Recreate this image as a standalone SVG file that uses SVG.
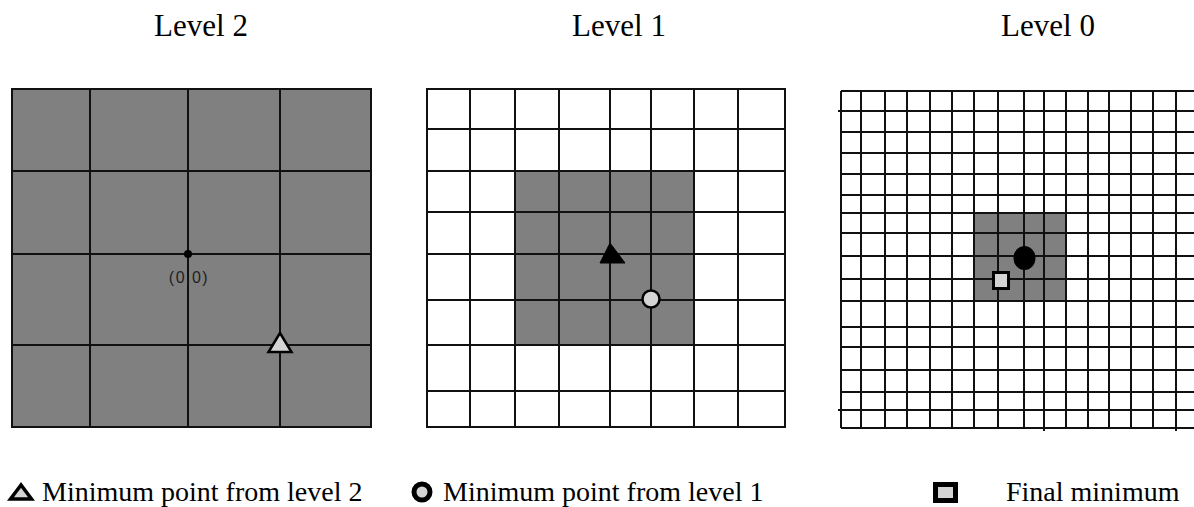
<svg xmlns="http://www.w3.org/2000/svg" width="1194" height="507" viewBox="0 0 1194 507">
<defs>
<style>
.title{font-family:"Liberation Serif","Times New Roman",serif;font-size:31px;fill:#000;text-anchor:middle}
.leg{font-family:"Liberation Serif","Times New Roman",serif;font-size:28px;fill:#000}
.grid{stroke:#111;stroke-width:2;fill:none}
.gray{fill:#808080}
.mark{stroke:#000;fill:#d4d4d4}
</style>
</defs>
<rect width="1194" height="507" fill="#fff"/>
<g id="titles">
<text class="title" x="201" y="36">Level 2</text>
<text class="title" x="619" y="36">Level 1</text>
<text class="title" x="1048" y="36">Level 0</text>
</g>
<g id="level2">
<rect class="gray" x="12" y="89" width="359" height="338"/>
<path class="grid" d="M12 89H371V427H12Z M90 89V427 M188 89V427 M280 89V427 M12 171H371 M12 254H371 M12 345H371"/>
<circle cx="188" cy="254" r="4" fill="#000"/>
<text x="189" y="283" font-family="Liberation Sans, Arial, sans-serif" font-size="16" letter-spacing="1.5" fill="#222" text-anchor="middle">(0,0)</text>
<polygon class="mark" stroke-width="2.5" fill="#c8c8c8" points="280,333 268.5,352 291.5,352"/>
</g>
<g id="level1">
<rect x="427" y="89" width="358" height="338" fill="#fff"/>
<rect class="gray" x="515" y="171" width="179" height="174"/>
<path class="grid" d="M427 89H785V427H427Z M470 89V427 M515 89V427 M559 89V427 M610 89V427 M651 89V427 M694 89V427 M738 89V427 M427 129H785 M427 171H785 M427 212H785 M427 254H785 M427 300H785 M427 345H785 M427 391H785"/>
<polygon fill="#000" stroke="#000" stroke-width="1" points="610,243 600,263 625,263"/>
<circle class="mark" cx="651" cy="299" r="8.5" stroke-width="2.5" fill="#dcdcdc"/>
</g>
<g id="level0">
<rect class="gray" x="974" y="213" width="92" height="88"/>
<path class="grid" d="M841 91V428 M861 91V428 M885 91V428 M907 91V428 M930 91V428 M952 91V428 M974 91V428 M998 91V428 M1024 91V428 M1044 91V431 M1066 91V428 M1088 91V428 M1109 91V428 M1131 91V428 M1153 91V428 M1176 91V431"/>
<path class="grid" d="M841 91H1194 M838 111H1194 M841 132H1194 M841 153H1194 M841 174H1194 M841 195H1194 M841 213H1194 M841 233H1194 M841 256H1194 M841 279H1194 M841 301H1194 M841 327H1194 M841 347H1194 M841 370H1194 M841 392H1194 M838 410H1194 M841 428H1194"/>
<ellipse cx="1024.5" cy="258" rx="11" ry="12" fill="#000"/>
<rect class="mark" x="993.5" y="272.5" width="15" height="16" stroke-width="3" fill="#d8d8d8"/>
</g>
<g id="legend">
<polygon class="mark" stroke-width="3.5" stroke-linejoin="miter" points="21,485 10.5,499 31.5,499"/>
<text class="leg" x="42" y="501">Minimum point from level 2</text>
<circle class="mark" cx="422" cy="492" r="8" stroke-width="5"/>
<text class="leg" x="443" y="501">Minimum point from level 1</text>
<rect class="mark" x="935.5" y="484.5" width="20" height="16" stroke-width="5"/>
<text class="leg" x="1006" y="501" font-size="29">Final minimum</text>
</g>
</svg>
